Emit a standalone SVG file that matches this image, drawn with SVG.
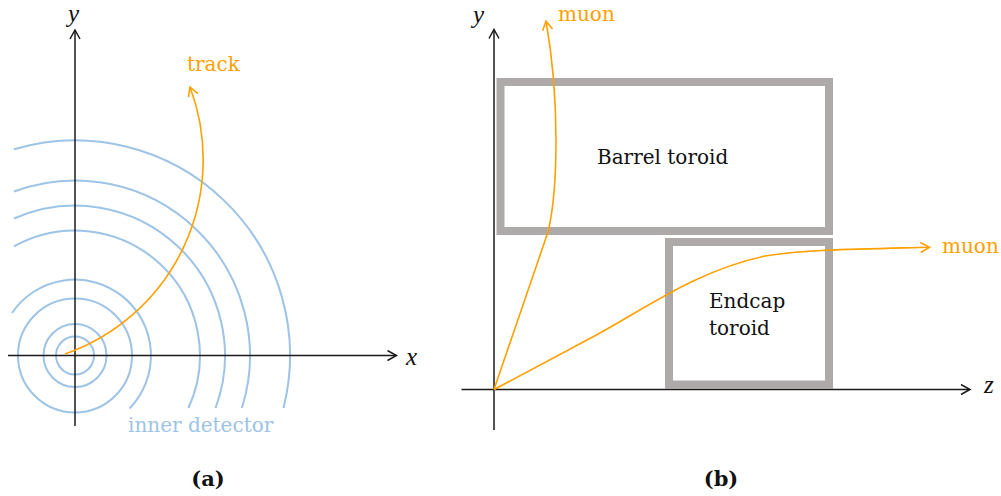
<svg xmlns="http://www.w3.org/2000/svg" width="1001" height="496" viewBox="0 0 1001 496">
<style>
.axis{fill:none;stroke:#1a1a1a;stroke-width:1.5}
.trk{fill:none;stroke:#FFA000;stroke-width:1.6}
.ring{fill:none;stroke:#9DC3E6;stroke-width:2}
.box{fill:none;stroke:#AEAAAA;stroke-width:8}
.lbl{font-family:"DejaVu Serif","Liberation Serif",serif;font-size:20px}
.orange{fill:#FFA000}
.blue{fill:#9DC3E6}
.dark{fill:#111}
.ax{font-family:"Liberation Serif",serif;font-style:italic;font-size:25px;fill:#111}
.cap{font-family:"DejaVu Serif","Liberation Serif",serif;font-weight:bold;font-size:21px;fill:#111;text-anchor:middle}
</style>
<defs>
<marker id="ab" viewBox="-1 -1 12 12" refX="9" refY="5" markerWidth="12" markerHeight="12" markerUnits="userSpaceOnUse" orient="auto">
<path d="M0,0 L9,5 L0,10" fill="none" stroke="#1a1a1a" stroke-width="1.5"/>
</marker>
<marker id="ao" viewBox="-1 -1 12 12" refX="9" refY="5" markerWidth="12" markerHeight="12" markerUnits="userSpaceOnUse" orient="auto">
<path d="M0,0 L9,5 L0,10" fill="none" stroke="#FFA000" stroke-width="1.6"/>
</marker>
</defs>
<rect width="1001" height="496" fill="#fff"/>

<!-- Panel (a) -->
<g id="inner-detector">
<circle class="ring" cx="75" cy="355.5" r="19"/>
<circle class="ring" cx="75" cy="355.5" r="31.5"/>
<circle class="ring" cx="75" cy="355.5" r="57"/>
<path class="ring" d="M12,313 A76,76 0 1 1 129.5,408.5"/>
<path class="ring" d="M14,246.4 A125,125 0 0 1 188.4,408"/>
<path class="ring" d="M14,218.5 A150,150 0 0 1 215.5,408"/>
<path class="ring" d="M14,191.5 A175,175 0 0 1 241.9,408"/>
<path class="ring" d="M14,149.3 A215,215 0 0 1 283.5,408"/>
<text class="lbl blue" x="128" y="432">inner detector</text>
</g>

<!-- Panel (b) -->
<g id="barrel-toroid">
<rect class="box" x="500.5" y="82" width="328.5" height="149"/>
<text class="lbl dark" x="597" y="164">Barrel toroid</text>
</g>
<g id="endcap-toroid">
<rect class="box" x="669" y="242" width="160" height="142.5"/>
<text class="lbl dark" x="709" y="308">Endcap</text>
<text class="lbl dark" x="709" y="335">toroid</text>
</g>

<g id="connectors">
<!-- axes (a) -->
<line class="axis" x1="8" y1="355.5" x2="396.5" y2="355.5" marker-end="url(#ab)"/>
<line class="axis" x1="75" y1="426" x2="75" y2="30" marker-end="url(#ab)"/>
<!-- track -->
<path class="trk" d="M65,354 A206,206 0 0 0 190,87" marker-end="url(#ao)"/>
<!-- axes (b) -->
<line class="axis" x1="461.5" y1="389.5" x2="970" y2="389.5" marker-end="url(#ab)"/>
<line class="axis" x1="494" y1="430" x2="494" y2="29.5" marker-end="url(#ab)"/>
<!-- muons -->
<path class="trk" d="M494,389.5 L548,232 C558,190 560,100 546,21" marker-end="url(#ao)"/>
<path class="trk" d="M494,389.5 L595,335.7 C645,309 695,271 765,256 C805,249.5 860,249 929.5,247.3" marker-end="url(#ao)"/>
</g>

<g id="labels">
<text class="lbl orange" x="187" y="71">track</text>
<text class="lbl orange" x="558" y="21">muon</text>
<text class="lbl orange" x="942" y="253">muon</text>
<text class="ax" x="68" y="22">y</text>
<text class="ax" x="406" y="365">x</text>
<text class="ax" x="473" y="23">y</text>
<text class="ax" x="984" y="393">z</text>
<text class="cap" x="208" y="486">(a)</text>
<text class="cap" x="721" y="486">(b)</text>
</g>
</svg>
